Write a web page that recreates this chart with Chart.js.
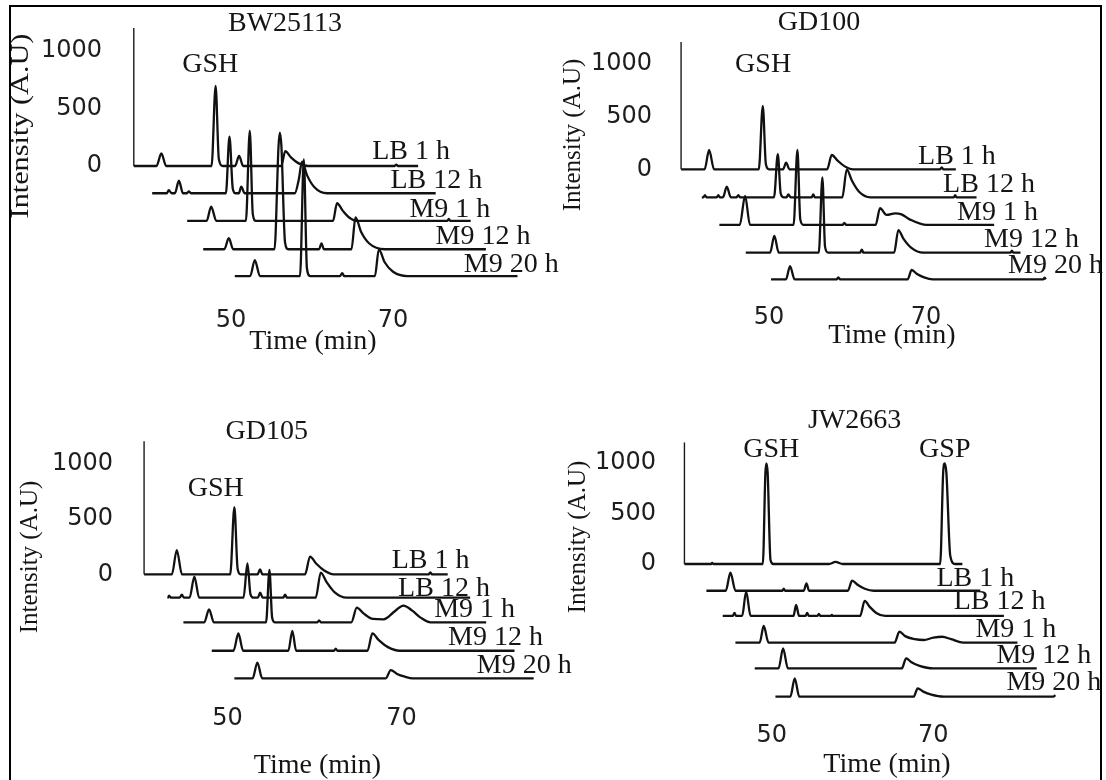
<!DOCTYPE html>
<html>
<head>
<meta charset="utf-8">
<script src="https://cdn.jsdelivr.net/npm/chart.js@4.4.1/dist/chart.umd.min.js"></script>
<style>
  html, body { margin: 0; padding: 0; background: #fff; }
  #fig { position: relative; width: 1106px; height: 780px; overflow: hidden; background: #fff; }
  #frame { position: absolute; left: 9px; top: 5px; width: 1089px; height: 800px; border: 2px solid #000; }
  #fig canvas { position: absolute; left: 0; top: 0; }
</style>
</head>
<body>
<div id="fig">
  <div id="frame"></div>
  <canvas id="c1" width="1106" height="780"></canvas>
  <canvas id="c2" width="1106" height="780"></canvas>
  <canvas id="c3" width="1106" height="780"></canvas>
  <canvas id="c4" width="1106" height="780"></canvas>
</div>
<script>
// Culture conditions, front to back
const traceNames = ['LB 1 h', 'LB 12 h', 'M9 1 h', 'M9 12 h', 'M9 20 h'];
const intensityTicks = [0, 500, 1000];
const timeTicks = [50, 70];

// ---- BW25113 chromatograms: [time (min), intensity (A.U)] ----
const bwLB1h = [[38,0],[40.8,0],[41.4,110],[42.0,0],[47.6,0],[48.1,696],[48.5,60],[49.0,0],[50.5,0],[51.0,87],[51.5,0],
  [56.2,0],[56.7,130],[57.4,75],[58.3,25],[59.5,0],[70.2,0],[70.4,12],[70.6,0],[73.1,0]];
const bwLB12h = [[38,0],[39.8,0],[40.05,26],[40.4,0],[40.8,0],[41.3,110],[41.8,0],[42.3,0],[42.5,17],[42.8,0],
  [47.1,0],[47.54,493],[47.95,40],[48.3,0],[48.7,0],[49.0,58],[49.4,0],
  [55.6,0],[56.1,120],[56.5,275],[57.1,160],[58.0,55],[59.6,0],[73,0]];
const bwM91h = [[38,0],[40.4,0],[40.96,124],[41.6,0],[45.25,0],[45.73,785],[46.1,60],[46.5,0],
  [56.0,0],[56.5,154],[57.2,90],[58.0,30],[59.0,0],[70.1,0],[70.3,17],[70.5,0],[73,0]];
const bwM912h = [[38,0],[40.6,0],[41.16,96],[41.7,0],[46.8,0],[47.3,900],[47.46,1015],[47.65,900],[48.1,60],[48.5,0],
  [52.3,0],[52.6,52],[52.9,0],[56.3,0],[56.8,278],[57.5,150],[58.5,50],[60.4,0],[72.9,0]];
const bwM920h = [[38,0],[39.9,0],[40.47,139],[41.1,0],[46.05,0],[46.52,1015],[46.9,70],[47.3,0],
  [51.0,0],[51.26,26],[51.5,0],[55.3,0],[55.78,232],[56.5,120],[57.5,40],[59.3,0],[72.9,0]];

// ---- GD100 ----
const gd100LB1h = [[38.8,0],[41.8,0],[42.37,182],[43.0,0],[48.7,0],[49.21,597],[49.6,50],[50.0,0],
  [51.8,0],[52.18,63],[52.6,0],[57.4,0],[58.0,135],[58.7,85],[59.6,30],[60.7,0],
  [71.8,0],[72.0,19],[72.2,0],[73.8,0]];
const gd100LB12h = [[38.8,0],[39.0,0],[39.2,19],[39.4,0],[40.7,0],[40.9,19],[41.1,0],[41.5,0],[41.98,101],[42.5,0],
  [43.2,0],[43.46,19],[43.7,0],[48.0,0],[48.48,408],[48.85,35],[49.2,0],[49.6,0],[49.83,28],[50.1,0],
  [52.8,0],[53.0,28],[53.2,0],[56.7,0],[57.27,264],[57.9,160],[58.8,55],[60.3,0],
  [70.9,0],[71.07,19],[71.25,0],[73.8,0]];
const gd100M91h = [[38.8,0],[41.4,0],[42.07,274],[42.7,0],[48.25,0],[48.74,708],[49.1,55],[49.5,0],
  [54.5,0],[54.72,19],[54.95,0],[58.7,0],[59.27,158],[60.1,95],[61.2,110],[62.0,100],[63.1,50],[65.2,0],[73.8,0]];
const gd100M912h = [[38.8,0],[41.9,0],[42.44,158],[43.0,0],[48.1,0],[48.56,710],[48.9,55],[49.3,0],
  [53.35,0],[53.58,28],[53.8,0],[57.7,0],[58.24,214],[58.9,130],[59.9,45],[61.4,0],
  [72.5,0],[72.7,19],[72.9,0],[73.8,0]];
const gd100M920h = [[38.8,0],[40.7,0],[41.22,125],[41.8,0],[47.15,0],[47.37,19],[47.6,0],
  [56.2,0],[56.72,88],[57.4,50],[58.3,18],[59.4,0],[73.5,0],[73.65,15],[73.8,0]];

// ---- GD105 ----
const gd105LB1h = [[40.4,0],[43.6,0],[44.16,219],[44.75,0],[50.3,0],[50.78,605],[51.15,50],[51.5,0],
  [53.45,0],[53.73,45],[54.0,0],[58.9,0],[59.48,160],[60.2,95],[61.1,35],[62.2,0],
  [73.1,0],[73.3,18],[73.5,0],[75.3,0]];
const gd105LB12h = [[40.4,0],[40.45,0],[40.6,18],[40.8,0],[41.8,0],[42.06,27],[42.3,0],[42.95,0],[43.5,190],[44.05,0],
  [49.15,0],[49.6,310],[49.95,30],[50.3,0],[50.8,0],[51.06,45],[51.35,0],[53.7,0],[53.93,27],[54.15,0],
  [57.45,0],[58.03,226],[58.7,140],[59.6,50],[61.0,0],[75.2,0]];
const gd105M91h = [[40.4,0],[42.8,0],[43.35,117],[43.9,0],[49.9,0],[50.29,472],[50.6,40],[50.9,0],
  [55.8,0],[56.0,18],[56.2,0],[59.7,0],[60.33,133],[61.1,80],[62.2,30],[63.4,27],[64.7,100],[65.69,151],
  [66.7,105],[67.7,40],[68.8,0],[75.2,0]];
const gd105M912h = [[40.4,0],[42.9,0],[43.46,156],[44.0,0],[49.2,0],[49.66,180],[50.1,0],
  [54.45,0],[54.65,18],[54.85,0],[58.3,0],[58.86,156],[59.6,95],[60.6,35],[62.0,0],[75.2,0]];
const gd105M920h = [[40.4,0],[42.5,0],[43.04,142],[43.6,0],[57.8,0],[58.38,75],[59.1,40],[60.0,15],[60.9,0],[74.8,0]];

// ---- JW2663 (standard run in front) ----
const jwStandard = [[39.2,0],[42.5,0],[42.63,10],[42.8,0],[48.9,0],[49.22,900],[49.35,994],[49.5,900],[49.85,40],[50.2,0],
  [57.1,0],[57.9,20],[58.8,0],[70.85,0],[71.22,900],[71.42,994],[71.62,900],[72.1,80],[72.7,0],[73.6,0]];
const jwLB1h = [[39.2,0],[41.6,0],[42.17,178],[42.8,0],[48.6,0],[48.77,20],[48.95,0],[51.25,0],[51.58,72],[51.9,0],
  [56.7,0],[57.23,99],[57.9,60],[58.8,20],[59.9,0],[73.1,0]];
const jwLB12h = [[39.2,0],[40.45,0],[40.65,30],[40.85,0],[41.6,0],[42.1,240],[42.65,0],[47.95,0],[48.28,109],[48.65,0],
  [49.45,0],[49.65,30],[49.85,0],[50.9,0],[51.1,20],[51.3,0],[52.55,0],[52.7,10],[52.85,0],
  [56.2,0],[56.77,148],[57.4,90],[58.2,30],[59.3,0],[74.0,0]];
const jwM91h = [[39.2,0],[42.2,0],[42.7,165],[43.3,0],[58.9,0],[59.5,109],[60.2,65],[61.4,35],[62.5,27],[63.7,50],
  [64.78,59],[65.9,35],[67.4,0],[74.1,0]];
const jwM912h = [[39.2,0],[42.15,0],[42.71,197],[43.3,0],[57.4,0],[57.94,99],[58.6,60],[59.6,25],[61.3,0],[74.1,0]];
const jwM920h = [[39.2,0],[41.05,0],[41.59,181],[42.15,0],[56.3,0],[56.81,82],[57.5,50],[58.5,20],[60.0,0],[73.6,0],[73.85,15]];

// Waterfall stacking: each run is shifted right (min) and down (A.U)
const bwShiftMin = [0, 2.27, 6.59, 8.57, 12.47];
const bwShiftAU = [0, 237, 478, 724, 957];
const gd100ShiftMin = [0, 2.64, 4.88, 8.24, 11.46];
const gd100ShiftAU = [0, 264, 525, 787, 1038];
const gd105ShiftMin = [0, 2.68, 4.52, 7.78, 10.38];
const gd105ShiftAU = [0, 211, 433, 690, 939];
const jwShiftMin = [0, 2.72, 4.74, 6.31, 8.70, 11.26];
const jwShiftAU = [0, 264, 513, 777, 1030, 1310];

const SERIF = '"Liberation Serif", "Times New Roman", serif';
const SANS = '"DejaVu Sans", sans-serif';

const panels = [
  {
    id: 'c1', title: 'BW25113', start: 38,
    series: [bwLB1h, bwLB12h, bwM91h, bwM912h, bwM920h], names: traceNames,
    shiftMin: bwShiftMin, shiftAU: bwShiftAU,
    nameAt: [[67.43, 61], [67.42, 43], [65.44, 32], [66.68, 46], [66.27, 37]],
    peakLabels: [{ text: 'GSH', t: 47.43, i: 820 }],
    box: { L: 133, R: 520, T: 66, B: 290, x50: 231, kx: 8.1, y0: 166, ky: 0.115, yPad: 31, xPad: 16,
      titleX: 285, titleY: 31, timeX: 313, timeY: 349, yTitleX: 27.5, yTitleY: 126, yTitleStretch: 1.21 }
  },
  {
    id: 'c2', title: 'GD100', start: 38.8,
    series: [gd100LB1h, gd100LB12h, gd100M91h, gd100M912h, gd100M920h], names: traceNames,
    shiftMin: gd100ShiftMin, shiftAU: gd100ShiftAU,
    nameAt: [[68.99, 47], [69.54, 47], [69.08, 47], [69.16, 51], [68.99, 57]],
    peakLabels: [{ text: 'GSH', t: 49.25, i: 921 }],
    box: { L: 681, R: 1060, T: 69, B: 290, x50: 769, kx: 7.85, y0: 169.3, ky: 0.106, yPad: 29, xPad: 13,
      titleX: 819, titleY: 30, timeX: 892, timeY: 343, yTitleX: 579.5, yTitleY: 135, yTitleStretch: 1 }
  },
  {
    id: 'c3', title: 'GD105', start: 40.4,
    series: [gd105LB1h, gd105LB12h, gd105M91h, gd105M912h, gd105M920h], names: traceNames,
    shiftMin: gd105ShiftMin, shiftAU: gd105ShiftAU,
    nameAt: [[68.87, 54], [66.92, 15], [69.22, 51], [67.56, 51], [68.26, 51]],
    peakLabels: [{ text: 'GSH', t: 48.64, i: 707 }],
    box: { L: 144, R: 540, T: 474, B: 690, x50: 227.6, kx: 8.7, y0: 574.3, ky: 0.1108, yPad: 31, xPad: 14.5,
      titleX: 266.7, titleY: 439, timeX: 317.5, timeY: 773, yTitleX: 36.5, yTitleY: 557, yTitleStretch: 1 }
  },
  {
    id: 'c4', title: 'JW2663', start: 39.2,
    series: [jwStandard, jwLB1h, jwLB12h, jwM91h, jwM912h, jwM920h], names: [null].concat(traceNames),
    shiftMin: jwShiftMin, shiftAU: jwShiftAU,
    nameAt: [null, [67.67, 46], [67.79, 66], [68.9, 59], [69.11, 55], [67.79, 66]],
    peakLabels: [{ text: 'GSH', t: 49.94, i: 1053 }, { text: 'GSP', t: 71.42, i: 1053 }],
    box: { L: 684, R: 1060, T: 450, B: 705, x50: 771.7, kx: 8.08, y0: 564, ky: 0.1013, yPad: 28, xPad: 16.2,
      titleX: 854.6, titleY: 428, timeX: 887, timeY: 771.7, yTitleX: 584.5, yTitleY: 537, yTitleStretch: 1 }
  }
];

const AXIS_TOP = 1200;   // intensity reached by the drawn vertical axis
const Y_AXIS_W = 90;
const X_AXIS_H = 40;

// Titles, peak names, run names and the short intensity axis
function decorations(p) {
  return {
    id: 'decorations',
    afterDatasetsDraw(chart) {
      const { ctx } = chart;
      const x = chart.scales.x, y = chart.scales.y;
      const b = p.box;
      ctx.save();
      const ax = x.getPixelForValue(p.start);
      ctx.strokeStyle = '#1a1a1a';
      ctx.lineWidth = 1.4;
      ctx.beginPath();
      ctx.moveTo(ax, y.getPixelForValue(0));
      ctx.lineTo(ax, y.getPixelForValue(AXIS_TOP));
      ctx.stroke();

      ctx.fillStyle = '#151515';
      ctx.font = '28px ' + SERIF;
      ctx.textBaseline = 'alphabetic';
      ctx.textAlign = 'center';
      p.peakLabels.forEach(l => ctx.fillText(l.text, x.getPixelForValue(l.t), y.getPixelForValue(l.i)));

      ctx.textAlign = 'left';
      p.names.forEach((n, k) => {
        if (!n) return;
        const a = p.nameAt[k];
        ctx.fillText(n, x.getPixelForValue(a[0] + p.shiftMin[k]), y.getPixelForValue(a[1] - p.shiftAU[k]));
      });

      ctx.textAlign = 'center';
      ctx.fillText(p.title, b.titleX, b.titleY);
      ctx.fillText('Time (min)', b.timeX, b.timeY);

      ctx.save();
      ctx.translate(b.yTitleX, b.yTitleY);
      ctx.rotate(-Math.PI / 2);
      ctx.scale(b.yTitleStretch, 1);
      ctx.font = '25px ' + SERIF;
      ctx.fillText('Intensity (A.U)', 0, 0);
      ctx.restore();
      ctx.restore();
    }
  };
}

panels.forEach(p => {
  const b = p.box;
  const xMin = 50 + (b.L - b.x50) / b.kx;
  const xMax = 50 + (b.R - b.x50) / b.kx;
  const yMax = (b.y0 - b.T) / b.ky;
  const yMin = (b.y0 - b.B) / b.ky;

  const datasets = p.series.map((s, k) => ({
    label: p.names[k] || 'standard',
    data: s.map(([t, v]) => ({ x: t + p.shiftMin[k], y: v - p.shiftAU[k] })),
    borderColor: '#111',
    borderWidth: 2.3,
    pointRadius: 0,
    fill: false,
    cubicInterpolationMode: 'monotone',
    clip: false
  }));

  new Chart(document.getElementById(p.id), {
    type: 'line',
    data: { datasets },
    options: {
      responsive: false,
      devicePixelRatio: 1,
      animation: false,
      events: [],
      layout: {
        padding: { left: b.L - Y_AXIS_W, right: 1106 - b.R, top: b.T, bottom: 780 - b.B - X_AXIS_H }
      },
      elements: { line: { capBezierPoints: false } },
      plugins: { legend: { display: false }, tooltip: { enabled: false }, title: { display: false } },
      scales: {
        x: {
          type: 'linear', position: 'bottom', min: xMin, max: xMax, bounds: 'data',
          grid: { display: false, drawTicks: false, tickLength: 0 },
          border: { display: false },
          afterBuildTicks: s => { s.ticks = timeTicks.map(v => ({ value: v })); },
          afterFit: s => { s.height = X_AXIS_H; },
          ticks: {
            autoSkip: false, maxRotation: 0, minRotation: 0, padding: b.xPad,
            color: '#1e1e1e', font: { family: SANS, size: 24 },
            callback: v => String(v)
          }
        },
        y: {
          type: 'linear', position: 'left', min: yMin, max: yMax, bounds: 'data',
          grid: { display: false, drawTicks: false, tickLength: 0 },
          border: { display: false },
          afterBuildTicks: s => { s.ticks = intensityTicks.map(v => ({ value: v })); },
          afterFit: s => { s.width = Y_AXIS_W; },
          ticks: {
            autoSkip: false, padding: b.yPad,
            color: '#1e1e1e', font: { family: SANS, size: 24 },
            callback: v => String(v)
          }
        }
      }
    },
    plugins: [decorations(p)]
  });
});
</script>
</body>
</html>
